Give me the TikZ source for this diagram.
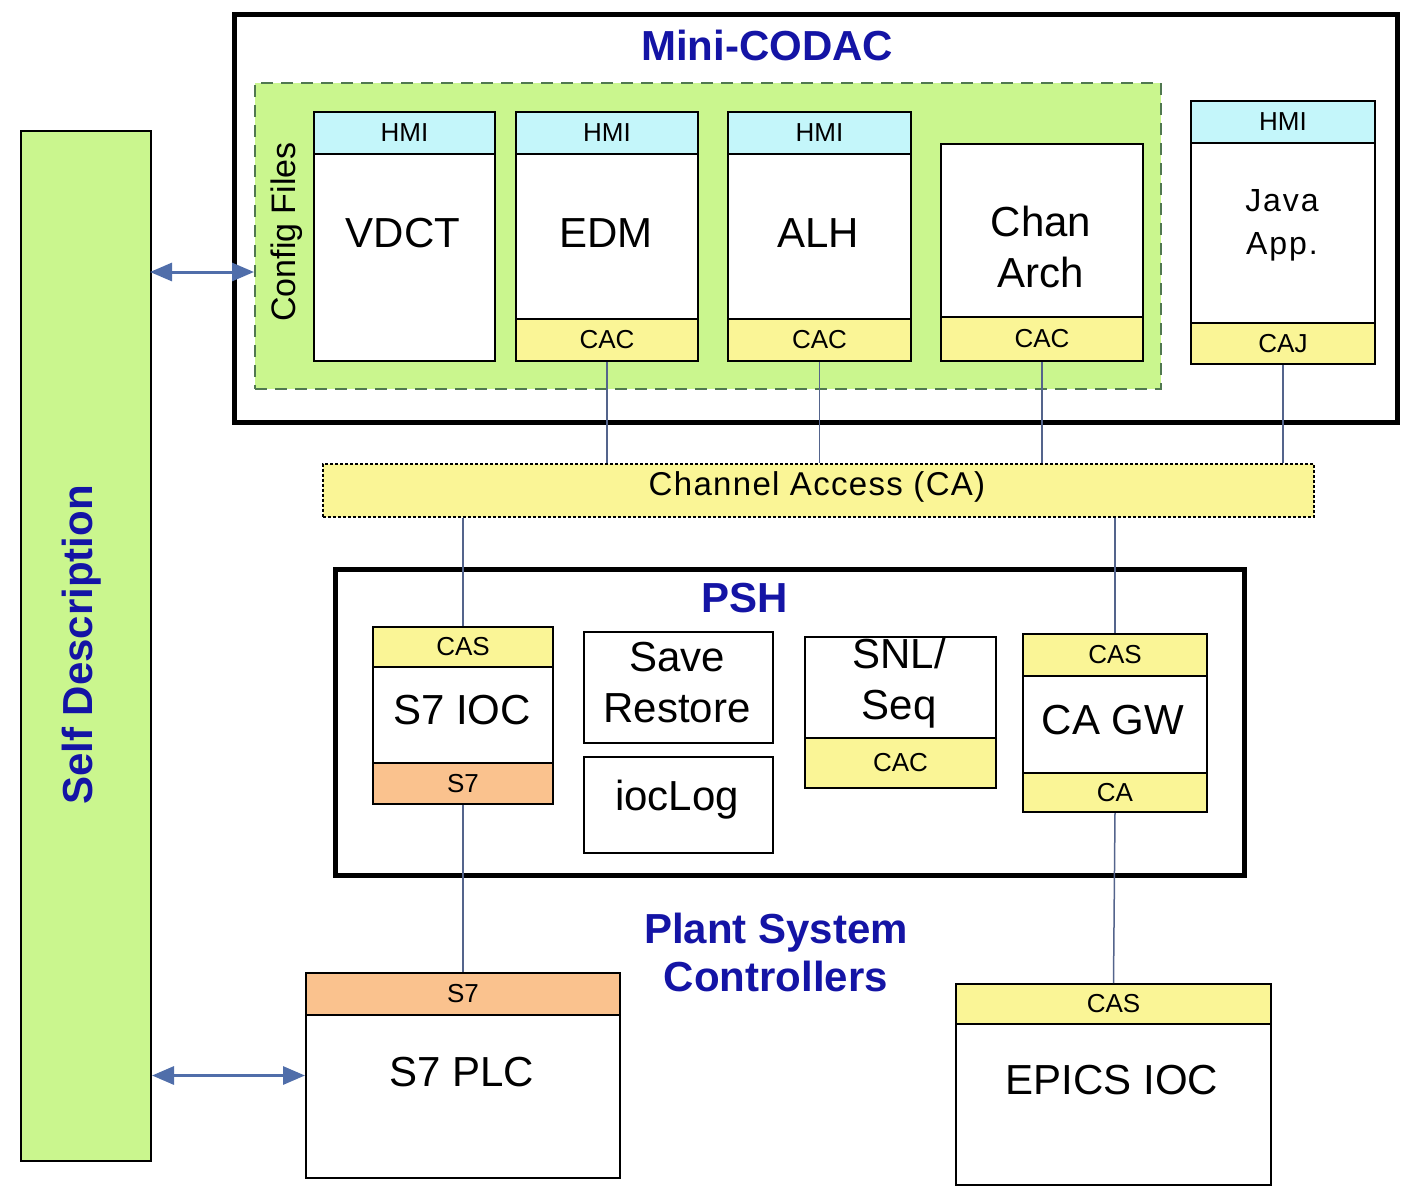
\documentclass[tikz,border=0pt]{standalone}
\usepackage{fontspec}
\setmainfont{Liberation Sans}
\usetikzlibrary{arrows.meta}
\definecolor{hmicyan}{RGB}{196,246,250}
\definecolor{cayellow}{RGB}{250,245,150}
\definecolor{s7orange}{RGB}{250,194,142}
\definecolor{sdgreen}{RGB}{202,246,142}
\definecolor{cfgedge}{RGB}{80,120,80}
\definecolor{titleblue}{RGB}{20,20,165}
\definecolor{linkgray}{RGB}{84,100,140}
\definecolor{arrowblue}{RGB}{80,110,170}
\begin{document}
\begin{tikzpicture}[x=1pt,y=-1pt,every node/.style={inner sep=0pt},
  frame/.style={draw,line width=5pt,anchor=north west},
  appbox/.style={draw,fill=white,line width=2pt,anchor=north west},
  band/.style={draw,line width=2pt,anchor=north west,font=\fontsize{26}{28}\selectfont},
  hmi/.style={band,fill=hmicyan},
  cac/.style={band,fill=cayellow},
  s7band/.style={band,fill=s7orange},
  title/.style={font=\bfseries\fontsize{42}{48}\selectfont,text=titleblue,align=center},
  big/.style={font=\fontsize{42}{51}\selectfont,align=center},
  link/.style={draw=linkgray,line width=1.5pt},
  biarrow/.style={draw=arrowblue,line width=3pt,{Triangle[length=22pt,width=18pt]}-{Triangle[length=22pt,width=18pt]}}]
\path[use as bounding box] (0,0) rectangle (1401,1187);
% self description bar
\node[draw,line width=2pt,fill=sdgreen,anchor=north west,minimum width=130,minimum height=1030] (selfdesc) at (20,130) {};
\node[title,rotate=90] (selfdesctxt) at (82,645) {Self Description};
% mini-codac
\node[frame,minimum width=1163,minimum height=408] (codac) at (232,12) {};
\node[title] (codactxt) at (767,45) {Mini-CODAC};
\node[draw=cfgedge,line width=1.5pt,dash pattern=on 12pt off 8pt,fill=sdgreen,anchor=north west,minimum width=906,minimum height=306] (config) at (254,82) {};
\node[rotate=90,font=\fontsize{34}{36}\selectfont] (configtxt) at (287,232) {Config Files};
\node[appbox,minimum width=181,minimum height=249] (vdct) at (313,111) {};
\node[hmi,minimum width=181,minimum height=42] (vdcthmi) at (313,111) {HMI};
\node[big] (vdcttxt) at (403,233) {VDCT};
\node[appbox,minimum width=182,minimum height=249] (edm) at (515,111) {};
\node[hmi,minimum width=182,minimum height=42] (edmhmi) at (515,111) {HMI};
\node[cac,minimum width=182,minimum height=42] (edmcac) at (515,318) {CAC};
\node[big] (edmtxt) at (606,233) {EDM};
\node[appbox,minimum width=183,minimum height=249] (alh) at (727,111) {};
\node[hmi,minimum width=183,minimum height=42] (alhhmi) at (727,111) {HMI};
\node[cac,minimum width=183,minimum height=42] (alhcac) at (727,318) {CAC};
\node[big] (alhtxt) at (818,233) {ALH};
\node[appbox,minimum width=202,minimum height=217] (chan) at (940,143) {};
\node[cac,minimum width=202,minimum height=44] (chancac) at (940,316) {CAC};
\node[big] (chantxt) at (1041,247) {Chan\\Arch};
\node[appbox,minimum width=184,minimum height=263] (java) at (1190,100) {};
\node[hmi,minimum width=184,minimum height=42] (javahmi) at (1190,100) {HMI};
\node[cac,minimum width=184,minimum height=41] (javacaj) at (1190,322) {CAJ};
\node[font=\fontsize{32}{43}\selectfont\addfontfeature{LetterSpace=6},align=center] (javatxt) at (1282,225) {Java\\App.};
% channel access
\node[draw,line width=1.5pt,densely dashed,fill=cayellow,anchor=north west,minimum width=991,minimum height=53] (ca) at (322,463) {};
\node[font=\fontsize{33}{36}\selectfont\addfontfeature{LetterSpace=4}] (catxt) at (817,487) {Channel Access (CA)};
% psh
\node[frame,minimum width=909,minimum height=306] (psh) at (333,567) {};
\node[title] (pshtxt) at (745,598) {PSH};
\node[appbox,minimum width=180,minimum height=177] (s7ioc) at (372,626) {};
\node[cac,minimum width=180,minimum height=40] (s7ioccas) at (372,626) {CAS};
\node[s7band,minimum width=180,minimum height=41] (s7iocs7) at (372,762) {S7};
\node[big] (s7ioctxt) at (462,710) {S7 IOC};
\node[appbox,minimum width=189,minimum height=111] (save) at (583,631) {};
\node[big] (savetxt) at (677,683) {Save\\Restore};
\node[appbox,minimum width=189,minimum height=96] (ioclog) at (583,756) {};
\node[big] (ioclogtxt) at (677,800) {iocLog};
\node[appbox,minimum width=191,minimum height=151] (snl) at (804,636) {};
\node[cac,minimum width=191,minimum height=50] (snlcac) at (804,737) {CAC};
\node[big] (snltxt) at (899,683) {SNL/\\Seq};
\node[appbox,minimum width=184,minimum height=178] (cagw) at (1022,633) {};
\node[cac,minimum width=184,minimum height=42] (cagwcas) at (1022,633) {CAS};
\node[cac,minimum width=184,minimum height=39] (cagwca) at (1022,772) {CA};
\node[big] (cagwtxt) at (1113,720) {CA GW};
% plant system controllers
\node[title] (plantxt) at (776,952) {Plant System\\Controllers};
\node[appbox,minimum width=314,minimum height=205] (plc) at (305,972) {};
\node[s7band,minimum width=314,minimum height=42] (plcs7) at (305,972) {S7};
\node[big] (plctxt) at (462,1072) {S7 PLC};
\node[appbox,minimum width=315,minimum height=201] (epics) at (955,983) {};
\node[cac,minimum width=315,minimum height=40] (epicscas) at (955,983) {CAS};
\node[big] (epicstxt) at (1112,1080) {EPICS IOC};
% links
\draw[link] (edmcac.south) -- (edmcac.south |- ca.north);
\draw[link] (alhcac.south) -- (alhcac.south |- ca.north);
\draw[link] (chancac.south) -- (chancac.south |- ca.north);
\draw[link] (javacaj.south) -- (javacaj.south |- ca.north);
\draw[link] (s7ioccas.north |- ca.south) -- (s7ioccas.north);
\draw[link] (cagwcas.north |- ca.south) -- (cagwcas.north);
\draw[link] (s7iocs7.south) -- (plcs7.north);
\draw[link] (cagwca.south) -- (epicscas.north);
\coordinate (cfgarrow) at (150,272);
\draw[biarrow] (cfgarrow) -- (cfgarrow -| config.west);
\draw[biarrow] (plc.west -| selfdesc.east) -- (plc.west);
\end{tikzpicture}
\end{document}
